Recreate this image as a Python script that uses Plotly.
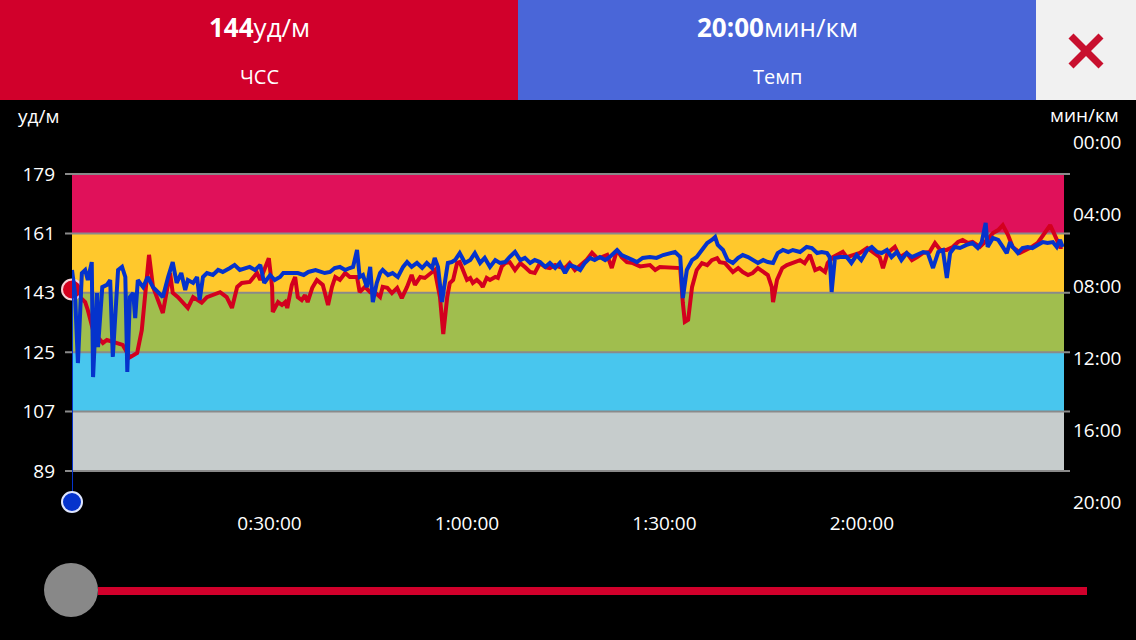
import plotly.graph_objects as go

# heart rate (bpm) against elapsed time in minutes
hr_time = [0.0, 1.2, 2.0, 2.4, 3.2, 3.9, 4.7, 5.3, 6.2, 7.7, 8.8, 9.9, 10.6, 11.4, 11.7, 12.3,
           12.9, 13.8, 14.9, 15.3, 16.1, 16.9, 17.6, 18.4, 19.0, 19.7, 20.5, 21.4, 22.5, 23.5,
           24.3, 25.1, 25.8, 27.0, 28.1, 28.6, 29.9, 30.4, 30.5, 31.3, 31.9, 32.4, 32.7, 33.4,
           33.9, 34.3, 34.9, 35.4, 35.8, 36.5, 37.2, 38.1, 38.9, 39.5, 40.0, 40.7, 41.5, 42.2,
           43.3, 43.7, 44.5, 45.3, 46.0, 46.8, 47.2, 47.9, 48.6, 49.4, 50.1, 50.9, 51.6, 52.1,
           52.9, 53.6, 54.4, 55.1, 55.9, 56.4, 57.0, 57.4, 57.9, 58.5, 58.9, 59.4, 60.0, 60.5,
           60.9, 61.5, 62.0, 62.4, 63.0, 63.5, 64.3, 64.7, 65.3, 65.8, 66.5, 67.3, 68.1, 68.8,
           69.6, 70.3, 71.1, 71.9, 72.6, 73.4, 74.1, 74.9, 75.6, 76.4, 77.2, 78.2, 79.0, 79.8,
           80.5, 81.3, 82.0, 82.8, 83.5, 84.3, 85.2, 86.3, 87.8, 88.6, 89.3, 90.4, 91.3, 92.4,
           92.8, 93.1, 93.6, 94.2, 94.9, 95.7, 96.5, 97.2, 98.0, 98.4, 99.2, 100.0, 100.4, 101.2,
           101.9, 102.7, 103.4, 104.2, 105.0, 105.7, 106.3, 106.5, 107.1, 107.9, 108.6, 109.5,
           110.6, 111.3, 112.1, 112.9, 113.6, 114.4, 114.8, 115.6, 116.4, 117.1, 117.7, 118.6,
           119.7, 120.8, 121.7, 122.7, 123.2, 123.9, 125.0, 125.8, 126.8, 127.6, 128.4, 129.3,
           130.3, 131.1, 131.9, 132.9, 133.8, 134.6, 135.3, 136.1, 136.8, 137.9, 139.0, 139.9,
           140.7, 141.4, 142.2, 142.9, 144.0, 145.1, 145.8, 146.7, 147.8, 148.6, 149.3, 150.1,
           150.5]
hr_bpm = [144.0, 141.7, 140.2, 137.8, 131.7, 129.6, 127.8, 128.7, 128.1, 127.2, 123.5, 124.8,
          131.7, 146.9, 154.5, 144.8, 141.7, 136.9, 149.0, 143.0, 141.7, 140.0, 138.4, 141.7,
          140.8, 140.0, 141.7, 142.3, 143.2, 141.7, 138.4, 144.8, 146.0, 146.3, 149.0, 146.9,
          153.5, 144.8, 137.2, 140.2, 139.3, 140.2, 138.4, 145.4, 147.8, 141.7, 140.8, 142.3,
          140.2, 144.5, 146.9, 145.4, 139.3, 144.8, 147.8, 146.9, 149.0, 147.8, 147.8, 143.2,
          144.8, 143.2, 143.2, 141.7, 144.8, 144.5, 142.9, 144.5, 141.4, 144.8, 148.4, 145.4,
          147.8, 147.5, 149.0, 149.9, 141.7, 130.5, 141.7, 146.0, 146.9, 152.0, 152.3, 149.9,
          146.9, 147.5, 146.0, 146.9, 146.0, 144.8, 147.5, 146.9, 147.8, 147.5, 151.0, 152.0,
          152.3, 149.9, 152.0, 150.8, 149.3, 149.0, 152.0, 150.8, 150.5, 151.4, 150.8, 150.5,
          152.0, 149.9, 151.4, 153.0, 155.1, 153.5, 153.8, 154.5, 150.5, 156.0, 153.8, 152.3,
          152.0, 151.0, 151.4, 149.9, 150.8, 150.8, 150.5, 150.5, 139.9, 134.2, 134.8, 144.8,
          149.9, 152.0, 151.4, 152.9, 153.5, 152.3, 152.0, 149.9, 149.3, 150.5, 149.3, 148.4,
          149.0, 150.5, 149.3, 148.4, 144.8, 140.2, 146.9, 150.5, 151.4, 152.0, 152.9, 152.0,
          154.5, 149.9, 150.5, 149.3, 152.0, 153.8, 154.5, 155.4, 153.8, 154.5, 155.1, 156.6,
          155.1, 153.8, 150.5, 155.1, 156.9, 153.8, 155.1, 152.9, 153.8, 155.1, 155.4, 158.1,
          156.0, 156.0, 156.9, 158.4, 159.0, 158.1, 158.4, 156.9, 159.0, 161.1, 162.0, 163.5,
          160.5, 156.9, 155.1, 156.0, 156.9, 158.1, 161.1, 163.5, 160.5, 156.9, 156.9]

# pace (min/km) against elapsed time in minutes
pace_time = [0.0, 0.45, 0.9, 1.5, 2.0, 2.4, 3.0, 3.2, 3.8, 3.95, 4.6, 5.3, 5.8, 6.2, 7.0, 7.6,
             8.1, 8.4, 8.8, 9.3, 9.6, 10.0, 10.8, 11.5, 12.3, 13.8, 14.6, 15.3, 15.9, 16.6, 17.2,
             17.6, 18.4, 19.0, 19.4, 19.9, 20.5, 21.4, 22.2, 22.9, 24.0, 24.7, 25.5, 26.3, 27.0,
             27.8, 28.6, 29.2, 30.1, 30.8, 31.6, 32.1, 33.2, 34.3, 35.2, 35.9, 37.0, 37.7, 38.4,
             39.2, 39.9, 40.7, 41.5, 42.2, 42.7, 43.3, 43.7, 44.2, 44.8, 45.3, 45.7, 46.3, 46.8,
             47.2, 48.0, 48.7, 49.5, 50.3, 50.9, 51.6, 52.4, 53.2, 53.9, 54.7, 55.1, 55.6, 56.2,
             56.7, 57.1, 57.7, 58.2, 58.9, 59.7, 60.5, 61.2, 62.0, 62.7, 63.5, 64.3, 65.0, 65.8,
             66.5, 67.3, 68.1, 68.8, 69.6, 70.3, 71.1, 71.9, 72.6, 73.4, 74.1, 74.9, 75.6, 76.4,
             77.2, 77.9, 78.7, 79.4, 80.2, 81.0, 81.7, 82.8, 83.5, 84.3, 85.2, 85.8, 86.7, 87.8,
             88.8, 89.8, 90.8, 91.6, 92.4, 92.8, 93.4, 94.2, 94.9, 95.7, 96.5, 97.2, 97.7, 98.1,
             98.9, 99.6, 100.4, 101.2, 101.9, 102.7, 103.4, 104.2, 105.0, 105.7, 106.5, 107.2,
             108.0, 108.8, 109.5, 110.6, 111.6, 112.4, 113.2, 113.9, 114.7, 115.1, 115.4, 115.9,
             116.7, 117.7, 118.4, 119.2, 119.9, 120.8, 121.5, 122.3, 123.0, 123.8, 124.5, 125.3,
             126.0, 126.8, 127.6, 128.4, 129.3, 130.0, 130.8, 131.6, 132.3, 132.9, 133.4, 134.1,
             134.9, 135.9, 136.8, 137.6, 138.2, 138.8, 139.1, 139.9, 140.7, 141.4, 142.0, 142.5,
             142.9, 143.7, 144.4, 145.2, 145.9, 146.7, 147.5, 148.2, 149.0, 149.6, 150.1, 150.5]
pace_min = [7.11, 8.39, 12.28, 7.28, 7.11, 7.67, 6.67, 13.06, 8.39, 11.39, 8.06, 7.94, 7.67,
            11.94, 7.11, 6.94, 7.5, 12.78, 8.61, 8.39, 9.78, 7.67, 8.06, 7.5, 8.06, 8.61, 7.5,
            6.67, 7.83, 7.28, 8.22, 7.67, 7.83, 7.5, 8.78, 7.5, 7.28, 7.39, 7.11, 7.22, 7.0, 6.83,
            7.11, 7.0, 6.94, 7.11, 6.83, 7.83, 7.39, 7.67, 7.5, 7.28, 7.28, 7.28, 7.39, 7.22,
            7.11, 7.22, 7.28, 7.22, 7.0, 6.94, 7.11, 7.0, 6.94, 6.0, 7.5, 7.39, 8.06, 6.94, 8.89,
            7.83, 7.28, 7.11, 7.39, 7.28, 7.5, 6.94, 6.67, 6.94, 6.72, 7.0, 6.72, 7.0, 6.44, 6.94,
            8.89, 7.67, 6.72, 6.67, 6.56, 6.17, 6.72, 6.56, 6.17, 6.72, 6.44, 6.94, 6.56, 6.72,
            6.67, 6.39, 6.11, 6.56, 6.44, 6.72, 6.56, 6.67, 6.94, 6.72, 7.0, 6.72, 7.28, 6.83,
            6.94, 7.11, 6.72, 6.44, 6.56, 6.39, 6.56, 6.39, 6.0, 6.28, 6.39, 6.56, 6.67, 6.44,
            6.39, 6.44, 6.28, 6.17, 6.11, 6.39, 8.67, 7.11, 6.56, 6.39, 6.0, 5.61, 5.44, 5.28,
            5.72, 6.0, 6.56, 6.72, 6.44, 6.28, 6.39, 6.56, 6.72, 6.56, 6.67, 6.72, 6.17, 6.0,
            6.11, 6.0, 6.11, 5.83, 5.89, 6.17, 6.11, 6.17, 6.39, 8.33, 6.44, 6.39, 6.39, 6.72,
            6.28, 6.56, 6.0, 5.83, 6.11, 6.17, 6.0, 6.39, 6.11, 6.56, 6.17, 6.39, 6.28, 6.11,
            6.17, 7.0, 6.11, 6.0, 7.56, 6.17, 5.83, 5.89, 5.72, 5.61, 5.89, 5.56, 4.5, 5.83,
            5.33, 5.44, 5.83, 6.17, 5.56, 5.83, 6.17, 5.89, 5.83, 5.89, 5.72, 5.56, 5.61, 5.56,
            5.83, 5.44, 5.83]

# heart rate zones
zone_bounds = [89, 107, 125, 143, 161, 179]
zone_colors = ["#c6cccc", "#48c6ee", "#a0be4e", "#ffc82c", "#e0115a"]

hr_ticks = [89, 107, 125, 143, 161, 179]
pace_ticks = [0, 4, 8, 12, 16, 20]
pace_labels = ["00:00", "04:00", "08:00", "12:00", "16:00", "20:00"]
time_ticks = [30, 60, 90, 120]
time_labels = ["0:30:00", "1:00:00", "1:30:00", "2:00:00"]

cur_hr = 144
cur_pace = 20

W, H = 1136, 640
FONT = "Open Sans"
RED_LINE = "#d3001e"
BLUE_LINE = "#0533cc"


def px(x):
    return x / W


def py(y):
    return 1 - y / H


fig = go.Figure()

# thin cursor line from the pace marker up to the first pace sample
fig.add_trace(go.Scatter(x=[pace_time[0], pace_time[0]], y=[cur_pace, pace_min[0]], yaxis="y2",
                         mode="lines", line=dict(color=BLUE_LINE, width=2), hoverinfo="skip"))
fig.add_trace(go.Scatter(x=hr_time, y=hr_bpm, mode="lines",
                         line=dict(color=RED_LINE, width=4), name="ЧСС"))
fig.add_trace(go.Scatter(x=pace_time, y=pace_min, yaxis="y2", mode="lines",
                         line=dict(color=BLUE_LINE, width=4), name="Темп"))
fig.add_trace(go.Scatter(x=[0], y=[cur_hr], mode="markers", cliponaxis=False,
                         marker=dict(size=20, color=RED_LINE, line=dict(color="#f4d0d6", width=2))))
fig.add_trace(go.Scatter(x=[0], y=[cur_pace], yaxis="y2", mode="markers", cliponaxis=False,
                         marker=dict(size=20, color=BLUE_LINE, line=dict(color="#dfe6ff", width=2))))

shapes = []
# zone bands
for i in range(len(zone_colors)):
    shapes.append(dict(type="rect", xref="x domain", yref="y", x0=0, x1=1,
                       y0=zone_bounds[i], y1=zone_bounds[i + 1], fillcolor=zone_colors[i],
                       line=dict(width=0), layer="below"))
# zone boundary lines
for b in zone_bounds:
    shapes.append(dict(type="line", xref="paper", yref="y", x0=px(65), x1=px(1070), y0=b, y1=b,
                       line=dict(color="#8a8a8a", width=2), layer="below"))

# header blocks
shapes.append(dict(type="rect", xref="paper", yref="paper", x0=0, x1=px(518), y0=py(100), y1=1,
                   fillcolor="#d1002b", line=dict(width=0)))
shapes.append(dict(type="rect", xref="paper", yref="paper", x0=px(518), x1=px(1036), y0=py(100), y1=1,
                   fillcolor="#4a66d8", line=dict(width=0)))
shapes.append(dict(type="rect", xref="paper", yref="paper", x0=px(1036), x1=1, y0=py(100), y1=1,
                   fillcolor="#f1f1f1", line=dict(width=0)))
# close cross
shapes.append(dict(type="line", xref="paper", yref="paper", x0=px(1071), y0=py(36), x1=px(1101), y1=py(66),
                   line=dict(color="#c8102e", width=7)))
shapes.append(dict(type="line", xref="paper", yref="paper", x0=px(1071), y0=py(66), x1=px(1101), y1=py(36),
                   line=dict(color="#c8102e", width=7)))

# time slider at the bottom
shapes.append(dict(type="line", xref="paper", yref="paper", x0=px(98), y0=py(591), x1=px(1087), y1=py(591),
                   line=dict(color="#d1002b", width=8)))
shapes.append(dict(type="circle", xref="paper", yref="paper", x0=px(44), y0=py(563), x1=px(98), y1=py(617),
                   fillcolor="#888888", line=dict(width=0)))

annotations = [
    dict(x=px(259), y=py(27), text="<b>%d</b>уд/м" % cur_hr, font=dict(size=26, color="white")),
    dict(x=px(259), y=py(76), text="ЧСС", font=dict(size=20, color="white")),
    dict(x=px(777), y=py(27), text="<b>%02d:00</b>мин/км" % cur_pace, font=dict(size=26, color="white")),
    dict(x=px(777), y=py(76), text="Темп", font=dict(size=20, color="white")),
    dict(x=px(16), y=py(116), text="уд/м", xanchor="left", font=dict(size=19, color="white")),
    dict(x=px(1121), y=py(115), text="мин/км", xanchor="right", font=dict(size=19, color="white")),
]
for a in annotations:
    a.update(xref="paper", yref="paper", showarrow=False, font_family=FONT)
    a.setdefault("xanchor", "center")
    a["yanchor"] = "middle"

fig.update_layout(
    width=W, height=H,
    margin=dict(l=0, r=0, t=0, b=0, pad=0, autoexpand=False),
    paper_bgcolor="black", plot_bgcolor="black",
    showlegend=False,
    font=dict(family=FONT, color="white", size=19),
    xaxis=dict(domain=[px(72), px(1064)], range=[0, 150.7], tickvals=time_ticks, ticktext=time_labels,
               showgrid=False, zeroline=False, showline=False, ticks="", ticklabelstandoff=8,
               automargin=False, tickfont=dict(size=19, color="white")),
    yaxis=dict(domain=[py(502), py(142)], range=[79.61, 188.7], tickvals=hr_ticks,
               showgrid=False, zeroline=False, showline=False, ticks="", ticklabelstandoff=16,
               automargin=False, tickfont=dict(size=19, color="white")),
    yaxis2=dict(overlaying="y", side="right", range=[20, 0], tickvals=pace_ticks, ticktext=pace_labels,
                showgrid=False, zeroline=False, showline=False, ticks="", ticklabelstandoff=8,
                automargin=False, tickfont=dict(size=19, color="white")),
    shapes=shapes,
    annotations=annotations,
)

fig.write_html("out.html", config={"displayModeBar": False},
               post_script="document.body.style.margin='0';document.body.style.overflow='hidden';"
                           "document.body.style.background='black';")
